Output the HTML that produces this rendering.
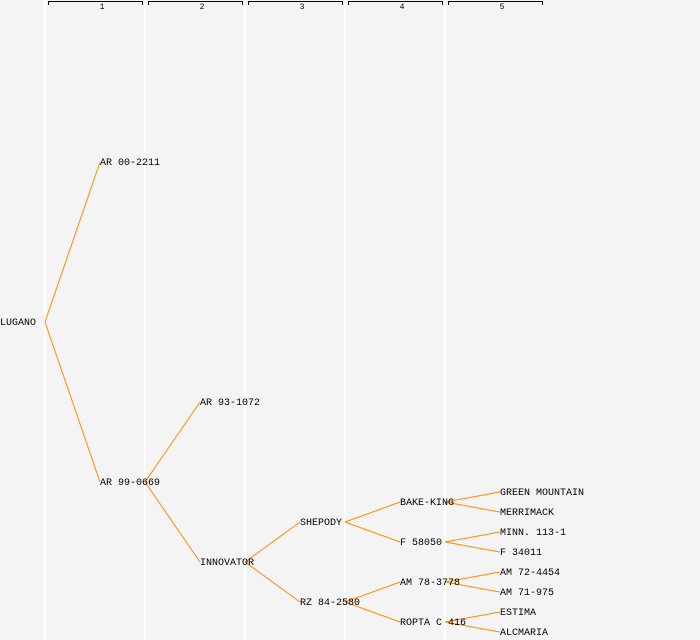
<!DOCTYPE html>
<html><head><style>body{margin:0;background:#f4f4f4}svg{display:block}text{font-family:"Liberation Mono",monospace;font-size:10px;fill:#000}</style></head><body>
<svg width="700" height="640" viewBox="0 0 700 640">
<rect width="700" height="640" fill="#f4f4f4"/>
<g fill="#fff"><rect x="44" y="0" width="2" height="640"/><rect x="144" y="0" width="2" height="640"/><rect x="244" y="0" width="2" height="640"/><rect x="344" y="0" width="2" height="640"/><rect x="444" y="0" width="2" height="640"/></g>
<g stroke="#000" fill="none" stroke-width="1">
<path d="M48.5 5V1.5H142.5V5"/><path d="M148.5 5V1.5H242.5V5"/><path d="M248.5 5V1.5H342.5V5"/><path d="M348.5 5V1.5H442.5V5"/><path d="M448.5 5V1.5H542.5V5"/>
</g>
<g text-anchor="middle"><text x="102" y="9" style="font-size:8px">1</text><text x="202" y="9" style="font-size:8px">2</text><text x="302" y="9" style="font-size:8px">3</text><text x="402" y="9" style="font-size:8px">4</text><text x="502" y="9" style="font-size:8px">5</text></g>
<g stroke="#ff8c00" stroke-width="1" fill="none">
<path d="M45 322L100 162M45 322L100 482"/>
<path d="M145 482L200 402M145 482L200 562"/>
<path d="M245 562L300 522M245 562L300 602"/>
<path d="M345 522L400 502M345 522L400 542M345 602L400 582M345 602L400 622"/>
<path d="M445 502L500 492M445 502L500 512M445 542L500 532M445 542L500 552M445 582L500 572M445 582L500 592M445 622L500 612M445 622L500 632"/>
</g>
<g>
<text x="0" y="325">LUGANO</text>
<text x="100" y="165">AR 00-2211</text>
<text x="100" y="485">AR 99-0669</text>
<text x="200" y="405">AR 93-1072</text>
<text x="200" y="565">INNOVATOR</text>
<text x="300" y="525">SHEPODY</text>
<text x="300" y="605">RZ 84-2580</text>
<text x="400" y="505">BAKE-KING</text>
<text x="400" y="545">F 58050</text>
<text x="400" y="585">AM 78-3778</text>
<text x="400" y="625">ROPTA C 416</text>
<text x="500" y="495">GREEN MOUNTAIN</text>
<text x="500" y="515">MERRIMACK</text>
<text x="500" y="535">MINN. 113-1</text>
<text x="500" y="555">F 34011</text>
<text x="500" y="575">AM 72-4454</text>
<text x="500" y="595">AM 71-975</text>
<text x="500" y="615">ESTIMA</text>
<text x="500" y="635">ALCMARIA</text>
</g>
</svg>
</body></html>
